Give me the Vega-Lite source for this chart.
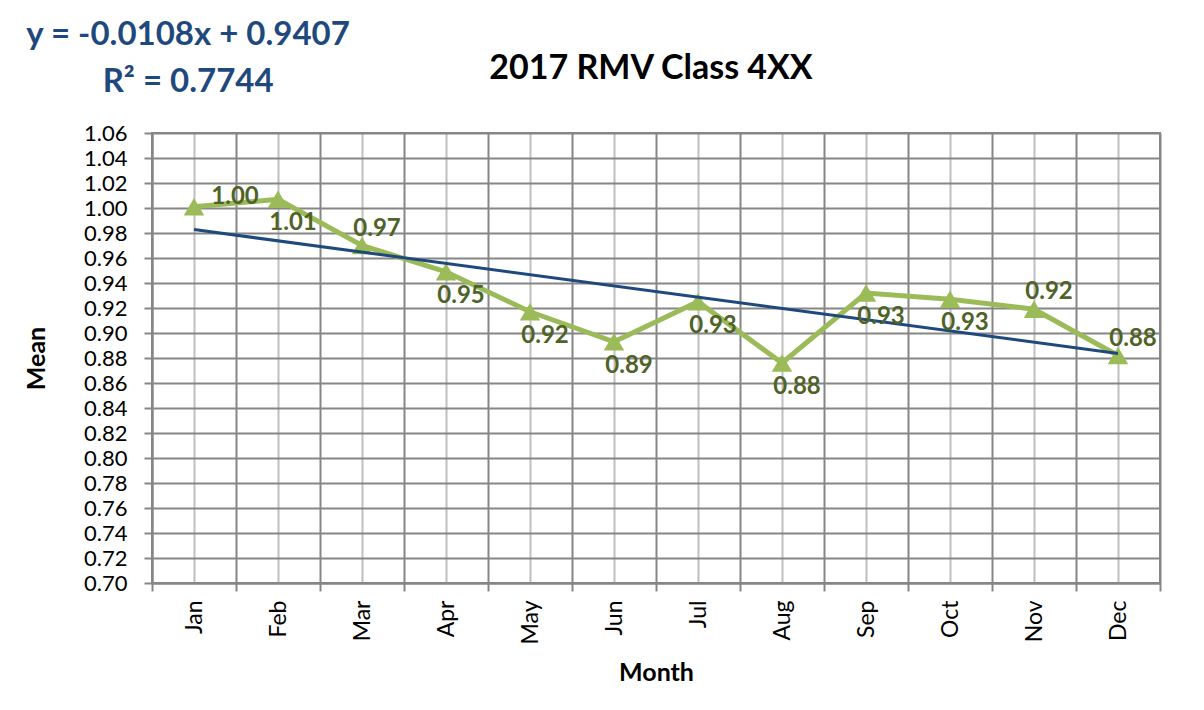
{
  "$schema": "https://vega.github.io/schema/vega-lite/v6.json",
  "width": 1008,
  "height": 450,
  "autosize": {"type": "none"},
  "padding": {"left": 152, "top": 133, "right": 44, "bottom": 127},
  "background": "white",
  "config": {
    "font": "Lato",
    "view": {"stroke": "#868686", "strokeWidth": 2},
    "axis": {"domainColor": "#868686", "domainWidth": 2, "tickColor": "#868686", "tickWidth": 2, "tickSize": 8, "labelFont": "Lato", "labelFontSize": 22, "labelColor": "#000000", "titleFont": "Lato", "titleFontSize": 25, "titleFontWeight": "bold", "titleColor": "#000000"}
  },
  "datasets": {
    "monthly": [
      {"month": "Jan", "idx": 1, "mean": 1.001},
      {"month": "Feb", "idx": 2, "mean": 1.007},
      {"month": "Mar", "idx": 3, "mean": 0.970},
      {"month": "Apr", "idx": 4, "mean": 0.949},
      {"month": "May", "idx": 5, "mean": 0.917},
      {"month": "Jun", "idx": 6, "mean": 0.893},
      {"month": "Jul", "idx": 7, "mean": 0.925},
      {"month": "Aug", "idx": 8, "mean": 0.876},
      {"month": "Sep", "idx": 9, "mean": 0.932},
      {"month": "Oct", "idx": 10, "mean": 0.927},
      {"month": "Nov", "idx": 11, "mean": 0.919},
      {"month": "Dec", "idx": 12, "mean": 0.882}
    ],
    "equation": [
      {"lines": ["y = -0.0108x + 0.9407", "R² = 0.7744"], "xpos": 0.93, "ypos": 1.1304}
    ],
    "heading": [
      {"label": "2017 RMV Class 4XX", "xpos": 6.44, "ypos": 1.1032}
    ]
  },
  "data": {"name": "monthly"},
  "encoding": {
    "x": {
      "field": "idx", "type": "quantitative",
      "scale": {"domain": [0.5, 12.5], "nice": false, "zero": false},
      "axis": {
        "title": "Month",
        "titlePadding": 16,
        "values": [0.5, 1, 1.5, 2, 2.5, 3, 3.5, 4, 4.5, 5, 5.5, 6, 6.5, 7, 7.5, 8, 8.5, 9, 9.5, 10, 10.5, 11, 11.5, 12, 12.5],
        "grid": true,
        "gridColor": {"condition": {"test": "datum.value % 1 === 0", "value": "#BFBFBF"}, "value": "#868686"},
        "gridWidth": 2,
        "tickColor": {"condition": {"test": "datum.value % 1 === 0", "value": "transparent"}, "value": "#868686"},
        "labelExpr": "datum.value % 1 === 0 ? ['Jan','Feb','Mar','Apr','May','Jun','Jul','Aug','Sep','Oct','Nov','Dec'][datum.value - 1] : ''",
        "labelFontSize": 23,
        "labelAngle": -90,
        "labelAlign": "right",
        "labelBaseline": "middle",
        "labelPadding": 9,
        "labelOverlap": false,
        "labelFlush": false,
        "labelBound": false
      }
    },
    "y": {
      "field": "mean", "type": "quantitative",
      "scale": {"domain": [0.70, 1.06], "nice": false, "zero": false},
      "axis": {
        "title": "Mean",
        "titlePadding": 34,
        "values": [0.70, 0.72, 0.74, 0.76, 0.78, 0.80, 0.82, 0.84, 0.86, 0.88, 0.90, 0.92, 0.94, 0.96, 0.98, 1.00, 1.02, 1.04, 1.06],
        "format": ".2f",
        "grid": true,
        "gridColor": "#868686",
        "gridWidth": 2,
        "labelPadding": 17,
        "labelFlush": false,
        "labelOverlap": false
      }
    }
  },
  "layer": [
    {"mark": {"type": "line", "color": "#9BBB59", "strokeWidth": 5}},
    {"mark": {"type": "point", "shape": "triangle-up", "filled": true, "size": 420, "color": "#9BBB59", "opacity": 1}},
    {
      "transform": [{"regression": "mean", "on": "idx"}],
      "mark": {"type": "line", "color": "#1F497D", "strokeWidth": 3}
    },
    {
      "transform": [{"filter": "datum.month === 'Jan'"}],
      "mark": {"type": "text", "font": "Lato", "fontSize": 24, "fontWeight": "bold", "color": "#4F6228", "align": "center", "baseline": "middle", "dx": 41, "dy": -10},
      "encoding": {"text": {"field": "mean", "format": ".2f"}}
    },
    {
      "transform": [{"filter": {"field": "month", "oneOf": ["Feb", "Apr", "May", "Jun", "Jul", "Aug", "Sep", "Oct"]}}],
      "mark": {"type": "text", "font": "Lato", "fontSize": 24, "fontWeight": "bold", "color": "#4F6228", "align": "center", "baseline": "middle", "dx": 15, "dy": 24},
      "encoding": {"text": {"field": "mean", "format": ".2f"}}
    },
    {
      "transform": [{"filter": {"field": "month", "oneOf": ["Mar", "Nov", "Dec"]}}],
      "mark": {"type": "text", "font": "Lato", "fontSize": 24, "fontWeight": "bold", "color": "#4F6228", "align": "center", "baseline": "middle", "dx": 15, "dy": -17},
      "encoding": {"text": {"field": "mean", "format": ".2f"}}
    },
    {
      "data": {"name": "equation"},
      "mark": {"type": "text", "font": "Lato", "fontSize": 33, "fontWeight": "bold", "color": "#1F497D", "align": "center", "baseline": "alphabetic", "lineHeight": 47, "clip": false},
      "encoding": {
        "x": {"field": "xpos", "type": "quantitative"},
        "y": {"field": "ypos", "type": "quantitative"},
        "text": {"field": "lines"}
      }
    },
    {
      "data": {"name": "heading"},
      "mark": {"type": "text", "font": "Lato", "fontSize": 34, "fontWeight": "bold", "color": "#000000", "align": "center", "baseline": "alphabetic", "clip": false},
      "encoding": {
        "x": {"field": "xpos", "type": "quantitative"},
        "y": {"field": "ypos", "type": "quantitative"},
        "text": {"field": "label"}
      }
    }
  ]
}
